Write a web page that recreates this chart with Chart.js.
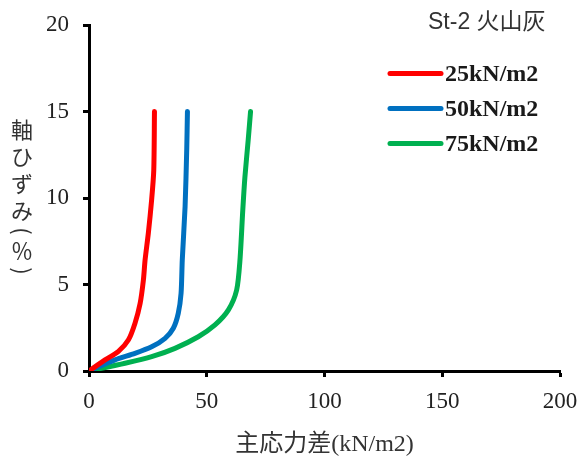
<!DOCTYPE html>
<html><head><meta charset="utf-8">
<script src="https://cdn.jsdelivr.net/npm/chart.js@4"></script>
<style>html,body{margin:0;padding:0;background:#fff}</style>
</head><body>
<canvas id="c" width="579" height="462"></canvas>
<script>
// Deviator stress (kN/m2) vs axial strain (%) for three confining pressures
const seriesLabels = ['25kN/m2', '50kN/m2', '75kN/m2'];
const seriesColors = ['#FF0000', '#0070C0', '#00B050'];

const stress25 = [0, 6.8, 12.4, 16.7, 19.5, 21.7, 23.1, 23.8, 25.2, 26.6, 27.5, 27.8];
const strain25 = [0, 0.64, 1.12, 1.79, 2.75, 3.9, 5.26, 6.4, 7.97, 9.9, 11.6, 15.0];

const stress50 = [0, 11.0, 19.5, 26.6, 32.3, 35.8, 37.9, 39.1, 39.6, 40.8, 41.5, 41.8];
const strain50 = [0, 0.64, 1.02, 1.40, 1.89, 2.47, 3.33, 4.5, 6.4, 9.5, 12.8, 15.0];

const stress75 = [0, 15.3, 26.6, 36.5, 46.4, 53.5, 59.2, 62.7, 64.1, 65.3, 66.2, 67.6, 68.6];
const strain75 = [0, 0.45, 0.83, 1.31, 1.98, 2.66, 3.53, 4.68, 6.4, 9.3, 11.2, 13.35, 15.0];

const xTicks = [0, 50, 100, 150, 200];
const yTicks = [0, 5, 10, 15, 20];

const chartTitle = 'St-2 火山灰';
const xTitle = '主応力差(kN/m2)';
const yTitle = '軸ひずみ(％)';

const pairs = (xs, ys) => xs.map((x, i) => ({ x, y: ys[i] }));
const seriesData = [pairs(stress25, strain25), pairs(stress50, strain50), pairs(stress75, strain75)];

const serif = '"Liberation Serif", "Times New Roman", serif';
const cjk = '"Noto Sans CJK JP", sans-serif';

// Title, legend and the vertically stacked y-axis caption
const decorations = {
  id: 'decorations',
  afterDraw(chart) {
    const ctx = chart.ctx;
    ctx.save();
    // chart title
    ctx.fillStyle = '#333';
    ctx.textBaseline = 'middle';
    ctx.textAlign = 'left';
    ctx.font = '23px "Liberation Sans", ' + cjk;
    ctx.fillText(chartTitle, 428, 23);

    // legend
    chart.data.datasets.forEach((ds, i) => {
      const y = 73.5 + i * 35;
      ctx.strokeStyle = ds.borderColor;
      ctx.lineWidth = 5;
      ctx.lineCap = 'round';
      ctx.beginPath();
      ctx.moveTo(390, y);
      ctx.lineTo(441, y);
      ctx.stroke();
      ctx.fillStyle = '#1a1a1a';
      ctx.font = 'bold 24px ' + serif;
      ctx.fillText(ds.label, 445, y + 1);
    });

    // y-axis caption, written top to bottom; brackets turned a quarter turn
    const isBracket = ch => '()（）'.includes(ch);
    const chars = [...yTitle];
    ctx.fillStyle = '#333';
    ctx.textAlign = 'center';
    ctx.font = '22px ' + cjk;
    let y = 130;
    chars.forEach((ch, i) => {
      if (isBracket(ch)) {
        ctx.save();
        ctx.translate(22, y);
        ctx.rotate(Math.PI / 2);
        ctx.fillText(ch, 0, 0);
        ctx.restore();
      } else {
        ctx.fillText(ch, 22, y);
      }
      const next = chars[i + 1];
      y += (isBracket(ch) || (next && isBracket(next))) ? 20 : 27;
    });
    ctx.restore();
  }
};

new Chart(document.getElementById('c'), {
  type: 'scatter',
  data: {
    datasets: seriesData.map((d, i) => ({
      label: seriesLabels[i],
      data: d,
      showLine: true,
      borderColor: seriesColors[i],
      backgroundColor: seriesColors[i],
      borderWidth: 5,
      pointRadius: 0,
      tension: 0.25,
      borderCapStyle: 'round',
      borderJoinStyle: 'round'
    }))
  },
  options: {
    responsive: false,
    animation: false,
    layout: { padding: { top: 25, right: 19, left: 0, bottom: 0 } },
    plugins: { legend: { display: false }, tooltip: { enabled: false } },
    scales: {
      x: {
        type: 'linear',
        min: 0, max: 200,
        afterFit: s => { s.height = 91; s.paddingLeft = 0; s.paddingRight = 0; },
        afterBuildTicks: s => { s.ticks = xTicks.map(v => ({ value: v })); },
        ticks: { color: '#222', padding: 11, font: { family: serif, size: 23 } },
        grid: { drawOnChartArea: false, tickLength: 6, tickWidth: 3, color: '#000' },
        border: { color: '#000', width: 3 },
        title: {
          display: true, text: xTitle, color: '#333',
          font: { family: serif + ', ' + cjk, size: 24 },
          padding: { top: 0, bottom: 3 }
        }
      },
      y: {
        type: 'linear',
        min: 0, max: 20,
        afterFit: s => { s.width = 89; s.paddingTop = 0; s.paddingBottom = 0; },
        afterBuildTicks: s => { s.ticks = yTicks.map(v => ({ value: v })); },
        ticks: { color: '#222', padding: 14, font: { family: serif, size: 23 } },
        grid: { drawOnChartArea: false, tickLength: 6, tickWidth: 3, color: '#000' },
        border: { color: '#000', width: 3 }
      }
    }
  },
  plugins: [decorations]
});
</script>
</body></html>
